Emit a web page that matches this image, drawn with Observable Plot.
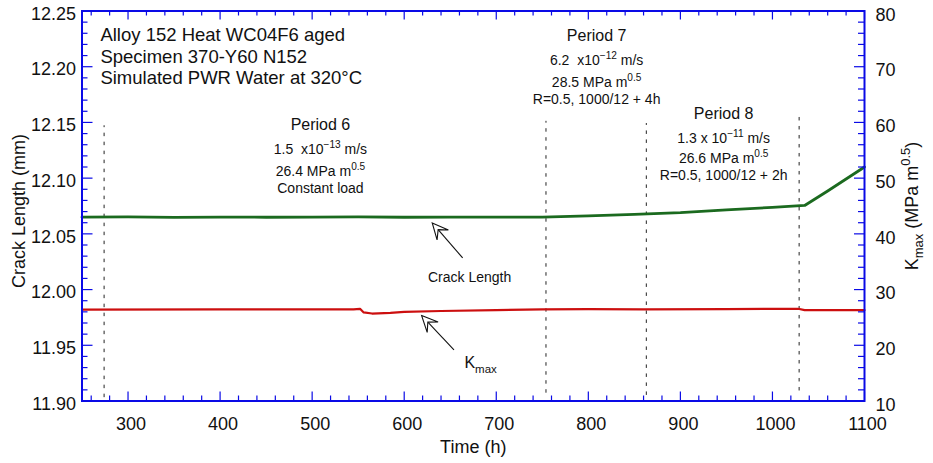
<!DOCTYPE html>
<html><head><meta charset="utf-8">
<script src="https://cdn.jsdelivr.net/npm/d3@7"></script>
<script src="https://cdn.jsdelivr.net/npm/@observablehq/plot@0.6"></script>
<style>
html,body{margin:0;padding:0;background:#fff}
</style>
</head><body>
<div id="chart"></div>
<script>
// ---- data ----
const crackTime   = [250, 300, 350, 400, 450, 500, 550, 600, 650, 700, 750, 800, 850, 900, 950, 1000, 1035, 1060, 1100];
const crackLength = [12.065, 12.0652, 12.0648, 12.0651, 12.0649, 12.065, 12.0652, 12.0649, 12.065, 12.0651, 12.065, 12.0662, 12.0675, 12.069, 12.0715, 12.0738, 12.0755, 12.0885, 12.110];

const kTime = [250, 400, 545, 552, 556, 565, 585, 600, 640, 700, 750, 800, 860, 950, 1028, 1035, 1100];
const kMax  = [26.4, 26.45, 26.45, 26.55, 25.9, 25.7, 25.8, 26.0, 26.15, 26.3, 26.45, 26.5, 26.45, 26.5, 26.55, 26.3, 26.3];

const periodStarts = [274, 754, 863, 1029];
const periodTop    = [12.147, 12.151, 12.149, 12.155];
const periodBottom = [11.903, 11.907, 11.905, 11.909];

const xTicks      = [300, 400, 500, 600, 700, 800, 900, 1000, 1100];
const xMinorTicks = [260,280,300,320,340,360,380,400,420,440,460,480,500,520,540,560,580,600,620,640,660,680,700,720,740,760,780,800,820,840,860,880,900,920,940,960,980,1000,1020,1040,1060,1080,1100];
const yTicks      = [11.90, 11.95, 12.00, 12.05, 12.10, 12.15, 12.20, 12.25];
const yMinor      = [11.91,11.92,11.93,11.94,11.95,11.96,11.97,11.98,11.99,12.00,12.01,12.02,12.03,12.04,12.05,12.06,12.07,12.08,12.09,12.10,12.11,12.12,12.13,12.14,12.15,12.16,12.17,12.18,12.19,12.20,12.21,12.22,12.23,12.24];
const kTickLabels = ["10", "20", "30", "40", "50", "60", "70", "80"];

// right axis (Kmax, 10..80) shares the frame with crack length (11.90..12.25)
const kToY = k => 11.90 + (k - 10) * (0.35 / 70);

const leftNotes = [
  {t: 270, v: 12.2229, text: "Alloy 152 Heat WC04F6 aged"},
  {t: 270, v: 12.2035, text: "Specimen 370-Y60 N152"},
  {t: 270, v: 12.1847, text: "Simulated PWR Water at 320°C"}
];
const centerNotes = [
  {t: 509, v: 12.1434, text: "Period 6", size: 16},
  {t: 509, v: 12.1219, text: "1.5  x10^{−13} m/s", size: 14},
  {t: 509, v: 12.1015, text: "26.4 MPa m^{0.5}", size: 14},
  {t: 509, v: 12.0866, text: "Constant load", size: 14},
  {t: 809, v: 12.2229, text: "Period 7", size: 16},
  {t: 809, v: 12.2011, text: "6.2  x10^{−12} m/s", size: 14},
  {t: 809, v: 12.1816, text: "28.5 MPa m^{0.5}", size: 14},
  {t: 809, v: 12.1668, text: "R=0.5, 1000/12 + 4h", size: 14},
  {t: 947, v: 12.1527, text: "Period 8", size: 16},
  {t: 947, v: 12.1312, text: "1.3 x 10^{−11} m/s", size: 14},
  {t: 947, v: 12.1132, text: "26.6 MPa m^{0.5}", size: 14},
  {t: 947, v: 12.0980, text: "R=0.5, 1000/12 + 2h", size: 14},
  {t: 671, v: 12.0065, text: "Crack Length", size: 14},
  {t: 683, v: 11.9293, text: "K_{max}", size: 16}
];

const arrows = [
  {t1: 664, v1: 12.028, t2: 631, v2: 12.0594},
  {t1: 654.6, v1: 11.9455, t2: 619.5, v2: 11.9762}
];

const crack = crackTime.map((t, i) => ({t, v: crackLength[i]}));
const kser  = kTime.map((t, i) => ({t, v: kToY(kMax[i])}));
const periods = periodStarts.map((t, i) => ({t, y1: periodBottom[i], y2: periodTop[i]}));
const kLabelOf = new Map(yTicks.map((d, i) => [d, kTickLabels[i]]));

const W = 933, H = 463;
const mL = 81.5, mR = 69, mT = 10.5, mB = 62.5;
const fw = W - mL - mR, fh = H - mT - mB;
const BLUE = "#0a0ae6";
const xMajorSet = new Set(xTicks);
const yMajorSet = new Set(yTicks.map(d => d.toFixed(2)));
const xMin = xMinorTicks.filter(d => !xMajorSet.has(d));
const yMin = yMinor.filter(d => !yMajorSet.has(d.toFixed(2)));

function arrowMark(index, scales) {
  const g = d3.create("svg:g");
  for (const a of arrows) {
    const x1 = scales.x(a.t1), y1 = scales.y(a.v1), x2 = scales.x(a.t2), y2 = scales.y(a.v2);
    const dx = x2 - x1, dy = y2 - y1, len = Math.hypot(dx, dy);
    const ux = dx / len, uy = dy / len, nx = -uy, ny = ux;
    const L = 16, Wd = 7.5, notch = 9;
    const bx = x2 - ux * L, by = y2 - uy * L;
    const nxp = x2 - ux * notch, nyp = y2 - uy * notch;
    g.append("line").attr("x1", x1).attr("y1", y1).attr("x2", nxp).attr("y2", nyp)
      .attr("stroke", "#111").attr("stroke-width", 1.1);
    g.append("path")
      .attr("d", `M${x2},${y2}L${bx + nx * Wd},${by + ny * Wd}L${nxp},${nyp}L${bx - nx * Wd},${by - ny * Wd}Z`)
      .attr("fill", "white").attr("stroke", "#111").attr("stroke-width", 1.1).attr("stroke-linejoin", "miter");
  }
  return g.node();
}

const chart = Plot.plot({
  width: W, height: H,
  marginLeft: mL, marginRight: mR, marginTop: mT, marginBottom: mB,
  x: {domain: [250, 1100]},
  y: {domain: [11.90, 12.25]},
  style: {fontFamily: "'Liberation Sans', Arial, Helvetica, sans-serif", fontSize: "18px", color: "#111", background: "white"},
  marks: [
    // period boundaries
    Plot.ruleX(periods, {x: "t", y1: "y1", y2: "y2", stroke: "#222", strokeWidth: 1, strokeDasharray: "3.5,5.5"}),
    // series
    Plot.line(kser, {x: "t", y: "v", stroke: "#cc0f0f", strokeWidth: 2.2}),
    Plot.line(crack, {x: "t", y: "v", stroke: "#1b6a1f", strokeWidth: 2.8}),
    // inward ticks
    Plot.ruleX(xTicks, {x: d => d, insetTop: fh - 9, stroke: BLUE, strokeWidth: 1.2}),
    Plot.ruleX(xMin, {x: d => d, insetTop: fh - 5, stroke: BLUE, strokeWidth: 1.2}),
    Plot.ruleX(xTicks, {x: d => d, insetBottom: fh - 9, stroke: BLUE, strokeWidth: 1.2}),
    Plot.ruleX(xMin, {x: d => d, insetBottom: fh - 5, stroke: BLUE, strokeWidth: 1.2}),
    Plot.ruleY(yTicks, {y: d => d, insetRight: fw - 11, stroke: BLUE, strokeWidth: 1.2}),
    Plot.ruleY(yMin, {y: d => d, insetRight: fw - 6, stroke: BLUE, strokeWidth: 1.2}),
    Plot.ruleY(yTicks, {y: d => d, insetLeft: fw - 10, stroke: BLUE, strokeWidth: 1.2}),
    Plot.ruleY(yMin, {y: d => d, insetLeft: fw - 6, stroke: BLUE, strokeWidth: 1.2}),
    Plot.frame({stroke: BLUE, strokeWidth: 2}),
    // axes
    Plot.axisX(xTicks, {tickSize: 0, tickPadding: 16, dx: 3, label: null, tickFormat: d => String(d)}),
    Plot.axisY(yTicks, {anchor: "left", tickSize: 0, tickPadding: 6, dy: 3, label: null, tickFormat: d => d.toFixed(2)}),
    Plot.axisY(yTicks, {anchor: "right", tickSize: 0, tickPadding: 11, dy: 4, label: null, tickFormat: d => kLabelOf.get(d)}),
    // axis titles
    Plot.text(["Time (h)"], {frameAnchor: "bottom", dy: 52, fontSize: 18, lineAnchor: "bottom", textAnchor: "middle"}),
    Plot.text(["Crack Length (mm)"], {frameAnchor: "left", rotate: -90, dx: -57, dy: 5, fontSize: 18, lineAnchor: "bottom", textAnchor: "middle"}),
    Plot.text(["K_{max} (MPa m^{0.5})"], {frameAnchor: "right", rotate: -90, dx: 53, fontSize: 18, lineAnchor: "bottom", textAnchor: "middle"}),
    // annotations
    Plot.text(leftNotes, {x: "t", y: "v", text: "text", textAnchor: "start", fontSize: 18.5, lineAnchor: "bottom"}),
    Plot.text(centerNotes, {x: "t", y: "v", text: "text", textAnchor: "middle", fontSize: "size", lineAnchor: "bottom"}),
    arrowMark
  ]
});

// turn ^{..} and _{..} into real superscript / subscript tspans
d3.select(chart).selectAll("text").each(function() {
  const el = this;
  if (el.querySelector("tspan")) return;
  const s = el.textContent;
  if (!/[\^_]\{/.test(s)) return;
  let fs = parseFloat(el.getAttribute("font-size"));
  if (!fs) { const p = el.closest("[font-size]"); fs = p ? parseFloat(p.getAttribute("font-size")) : 16; }
  if (!fs) fs = 16;
  el.textContent = "";
  const parts = s.split(/(\^\{[^}]*\}|_\{[^}]*\})/).filter(p => p.length);
  for (const p of parts) {
    const t = d3.select(el).append("tspan");
    if (p.startsWith("^{")) {
      t.text(p.slice(2, -1)).attr("font-size", (fs * 0.72).toFixed(1)).attr("baseline-shift", (fs * 0.42).toFixed(1));
    } else if (p.startsWith("_{")) {
      t.text(p.slice(2, -1)).attr("font-size", (fs * 0.72).toFixed(1)).attr("baseline-shift", (-fs * 0.3).toFixed(1));
    } else {
      t.text(p);
    }
  }
});

document.getElementById("chart").appendChild(chart);
</script>
</body></html>
